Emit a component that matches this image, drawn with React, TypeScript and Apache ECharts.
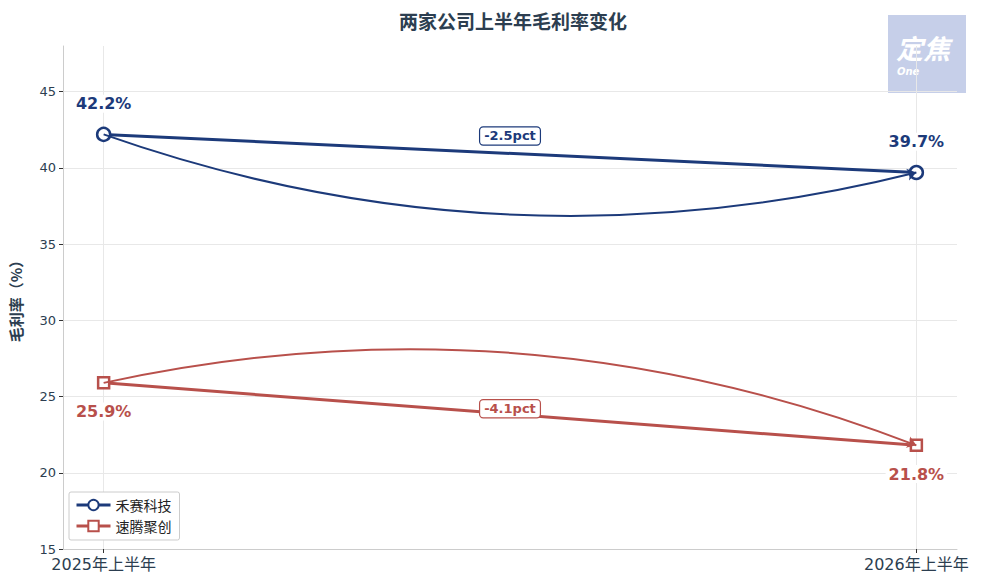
import React, { useEffect, useRef } from "react";
import * as echarts from "echarts";

const categories = ["2025年上半年", "2026年上半年"];
const xPos = [0, 1];
const hesaiValues = [42.2, 39.7];
const robosenseValues = [25.9, 21.8];
const seriesNames = ["禾赛科技", "速腾聚创"];
const changeLabels = ["-2.5pct", "-4.1pct"];
const changeLabelY = [42.1, 24.2];
const yTicks = [15, 20, 25, 30, 35, 40, 45];

const BLUE = "#1c3a7a";
const RED = "#b8504b";
const TEXT = "#2c3e50";
const FONT = "DejaVu Sans, 'Noto Sans CJK SC', sans-serif";

export default function App() {
  const ref = useRef<HTMLDivElement>(null);
  useEffect(() => {
    if (!ref.current) return;
    const chart = echarts.init(ref.current, undefined, { renderer: "svg" });
    const mkData = (vals: number[]) => vals.map((v, i) => [xPos[i], v]);
    const changeLabel = (text: string, color: string) => ({
      show: true,
      position: "inside",
      formatter: text,
      color,
      borderColor: color,
      fontSize: 13,
      fontWeight: "bold",
      backgroundColor: "#fff",
      borderWidth: 1.2,
      borderRadius: 3,
      padding: [2, 4],
      opacity: 1,
    });
    const option: any = {
      animation: false,
      textStyle: { fontFamily: FONT },
      title: {
        text: "两家公司上半年毛利率变化",
        left: 394,
        top: 7,
        textStyle: { fontSize: 19, fontWeight: "bold", color: TEXT, fontFamily: FONT },
      },
      grid: { left: 61, right: 24, top: 46, bottom: 38, containLabel: false },
      legend: {
        data: seriesNames,
        orient: "vertical",
        left: 69,
        top: 492,
        backgroundColor: "#fff",
        borderColor: "#cccccc",
        borderWidth: 1,
        borderRadius: 2,
        padding: [6, 8, 7, 6],
        itemGap: 7,
        itemWidth: 34,
        itemHeight: 13,
        lineStyle: { width: 3 },
        textStyle: { fontSize: 14, color: "#222", fontFamily: "'Noto Sans CJK SC', sans-serif" },
      },
      xAxis: {
        type: "value",
        min: -0.05,
        max: 1.05,
        axisLine: { show: true, onZero: false, lineStyle: { color: "#cccccc", width: 1 } },
        axisTick: { show: true, customValues: xPos, length: 4, lineStyle: { color: "#333" } },
        axisLabel: {
          customValues: xPos,
          formatter: (v: number) => categories[Math.round(v)] ?? "",
          fontSize: 16,
          color: TEXT,
          margin: 7,
          fontFamily: FONT,
        },
        splitLine: { show: true, lineStyle: { color: "#e8e8e8", width: 1 } },
      },
      yAxis: {
        type: "value",
        min: 15,
        max: 48,
        interval: 5,
        name: "毛利率（%）",
        nameLocation: "middle",
        nameGap: 40,
        nameRotate: 90,
        nameTextStyle: { fontSize: 15, fontWeight: "bold", color: TEXT, fontFamily: "'Noto Sans CJK SC', sans-serif" },
        axisLine: { show: true, onZero: false, lineStyle: { color: "#cccccc", width: 1 } },
        axisTick: { show: true, customValues: yTicks, length: 4, lineStyle: { color: "#333" } },
        axisLabel: { customValues: yTicks, fontSize: 13, color: TEXT, margin: 7 },
        splitLine: { show: true, lineStyle: { color: "#e8e8e8", width: 1 } },
      },
      series: [
        {
          name: seriesNames[0],
          type: "line",
          data: mkData(hesaiValues),
          symbol: "circle",
          symbolSize: 13,
          z: 5,
          lineStyle: { color: BLUE, width: 3 },
          itemStyle: { color: "#fff", borderColor: BLUE, borderWidth: 2.5 },
          label: {
            show: true,
            position: "top",
            distance: 14,
            formatter: (p: any) => p.value[1].toFixed(1) + "%",
            fontSize: 16,
            fontWeight: "bold",
            color: BLUE,
            backgroundColor: "#fff",
            padding: [1, 3],
          },
        },
        {
          name: seriesNames[1],
          type: "line",
          data: mkData(robosenseValues),
          symbol: "rect",
          symbolSize: 11,
          z: 5,
          lineStyle: { color: RED, width: 3 },
          itemStyle: { color: "#fff", borderColor: RED, borderWidth: 2.5 },
          label: {
            show: true,
            position: "bottom",
            distance: 13,
            formatter: (p: any) => p.value[1].toFixed(1) + "%",
            fontSize: 16,
            fontWeight: "bold",
            color: RED,
            backgroundColor: "#fff",
            padding: [1, 3],
          },
        },
        {
          name: "arrows",
          type: "lines",
          coordinateSystem: "cartesian2d",
          z: 6,
          symbol: ["none", "arrow"],
          symbolSize: 9,
          silent: true,
          data: [
            {
              coords: [[xPos[0], hesaiValues[0]], [xPos[1], hesaiValues[1]]],
              lineStyle: { color: BLUE, width: 2, curveness: -0.15, opacity: 1 },
            },
            {
              coords: [[xPos[0], robosenseValues[0]], [xPos[1], robosenseValues[1]]],
              lineStyle: { color: RED, width: 2, curveness: 0.15, opacity: 1 },
            },
          ],
        },
        {
          name: "changes",
          type: "scatter",
          symbol: "circle",
          symbolSize: 2,
          itemStyle: { color: "rgba(0,0,0,0)" },
          z: 10,
          silent: true,
          data: [
            { value: [0.5, changeLabelY[0]], label: changeLabel(changeLabels[0], BLUE) },
            { value: [0.5, changeLabelY[1]], label: changeLabel(changeLabels[1], RED) },
          ],
        },
      ],
      graphic: [
        {
          type: "group",
          left: 888,
          top: 15,
          z: 100,
          children: [
            { type: "rect", shape: { x: 0, y: 0, width: 78, height: 78 }, style: { fill: "#c6cfe9" } },
            {
              type: "text",
              x: 8,
              y: 19,
              style: {
                text: "定焦",
                fill: "#fff",
                fontSize: 27,
                fontWeight: "bold",
                fontStyle: "italic",
                fontFamily: "'Noto Sans CJK SC', sans-serif",
              },
            },
            {
              type: "text",
              x: 9,
              y: 51,
              style: {
                text: "One",
                fill: "#fff",
                fontSize: 10,
                fontWeight: "bold",
                fontStyle: "italic",
                fontFamily: FONT,
              },
            },
          ],
        },
      ],
    };
    chart.setOption(option);
    return () => chart.dispose();
  }, []);
  return <div ref={ref} style={{ width: 981, height: 587, margin: -8 }} />;
}
